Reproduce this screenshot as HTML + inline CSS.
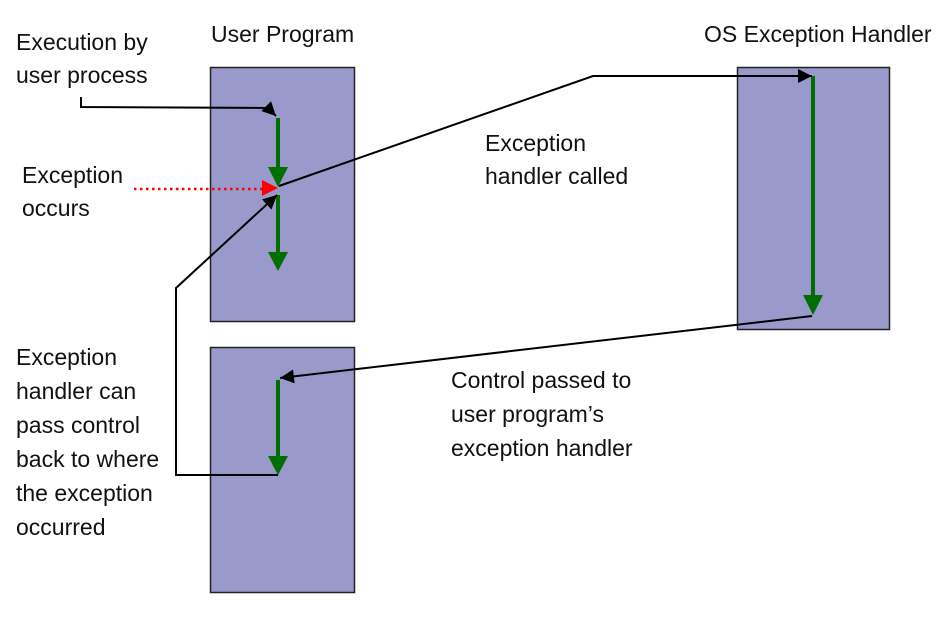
<!DOCTYPE html>
<html><head><meta charset="utf-8"><style>
html,body{margin:0;padding:0;background:#fff;}
svg{display:block;}
text{font-family:"Liberation Sans",Arial,Helvetica,sans-serif;font-size:23px;fill:#111;}
</style></head><body>
<svg width="938" height="626" viewBox="0 0 938 626" xmlns="http://www.w3.org/2000/svg" font-family="Liberation Sans, Arial, sans-serif">
<defs>
<marker id="ab" viewBox="0 0 10 10" refX="10" refY="5" markerWidth="14" markerHeight="14" markerUnits="userSpaceOnUse" orient="auto"><path d="M0,0 L10,5 L0,10 z" fill="#000"/></marker>
</defs>
<!-- boxes -->
<rect x="210.5" y="67.5" width="144" height="254" fill="#9999cc" stroke="#222" stroke-width="1.5"/>
<rect x="210.5" y="347.5" width="144" height="245" fill="#9999cc" stroke="#222" stroke-width="1.5"/>
<rect x="737.5" y="67.5" width="152" height="262" fill="#9999cc" stroke="#222" stroke-width="1.5"/>

<!-- titles -->
<text x="211" y="42" font-family="Liberation Sans, sans-serif">User Program</text>
<text x="704" y="42" font-family="Liberation Sans, sans-serif">OS Exception Handler</text>

<!-- left labels -->
<text x="16" y="50" font-family="Liberation Sans, sans-serif">Execution by</text>
<text x="16" y="83" font-family="Liberation Sans, sans-serif">user process</text>
<text x="22" y="183" font-family="Liberation Sans, sans-serif">Exception</text>
<text x="22" y="216" font-family="Liberation Sans, sans-serif">occurs</text>
<text x="16" y="365" font-family="Liberation Sans, sans-serif">Exception</text>
<text x="16" y="399" font-family="Liberation Sans, sans-serif">handler can</text>
<text x="16" y="433" font-family="Liberation Sans, sans-serif">pass control</text>
<text x="16" y="467" font-family="Liberation Sans, sans-serif">back to where</text>
<text x="16" y="501" font-family="Liberation Sans, sans-serif">the exception</text>
<text x="16" y="535" font-family="Liberation Sans, sans-serif">occurred</text>

<!-- middle labels -->
<text x="485" y="151" font-family="Liberation Sans, sans-serif">Exception</text>
<text x="485" y="184" font-family="Liberation Sans, sans-serif">handler called</text>
<text x="451" y="388" font-family="Liberation Sans, sans-serif">Control passed to</text>
<text x="451" y="422" font-family="Liberation Sans, sans-serif">user program’s</text>
<text x="451" y="456" font-family="Liberation Sans, sans-serif">exception handler</text>

<!-- green arrows -->
<line x1="278" y1="118" x2="278" y2="168" stroke="#006f00" stroke-width="4"/>
<polygon points="268,167 288,167 278,187" fill="#006f00"/>
<line x1="278" y1="195" x2="278" y2="254" stroke="#006f00" stroke-width="4"/>
<polygon points="268,252 288,252 278,271" fill="#006f00"/>
<line x1="813" y1="76" x2="813" y2="296" stroke="#006f00" stroke-width="4"/>
<polygon points="803,295 823,295 813,315" fill="#006f00"/>
<line x1="278" y1="380" x2="278" y2="458" stroke="#006f00" stroke-width="4"/>
<polygon points="268,456 288,456 278,475" fill="#006f00"/>

<!-- red dotted -->
<line x1="134" y1="189" x2="262" y2="189" stroke="#ff0000" stroke-width="2.5" stroke-dasharray="2.5,3.5"/>
<polygon points="262,180 278,188 262,196" fill="#ff0000"/>

<!-- black connectors -->
<polyline points="81,97 81,107 268,108 276,116" fill="none" stroke="#000" stroke-width="2" marker-end="url(#ab)"/>
<polyline points="279,186 593,76 812,76" fill="none" stroke="#000" stroke-width="2" marker-end="url(#ab)"/>
<polyline points="812,316 280,378" fill="none" stroke="#000" stroke-width="2" marker-end="url(#ab)"/>
<polyline points="278,475 176,475 176,288 277,195" fill="none" stroke="#000" stroke-width="2" marker-end="url(#ab)"/>
</svg>
</body></html>
